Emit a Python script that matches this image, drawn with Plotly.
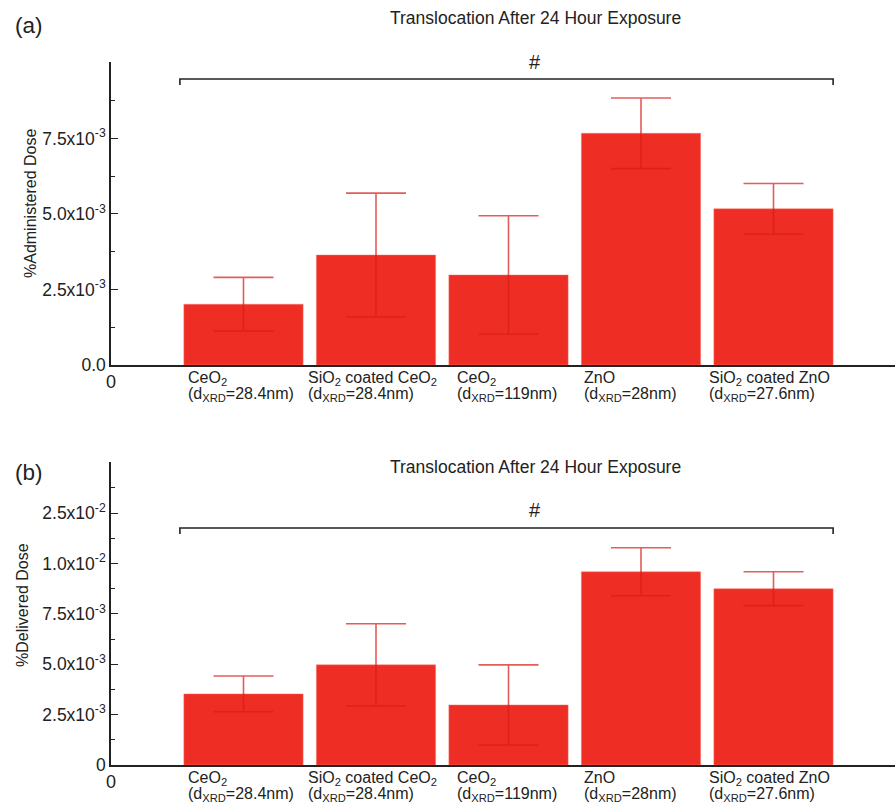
import plotly.graph_objects as go

# ---- data ----
cat_line1 = [
    "CeO<sub>2</sub>",
    "SiO<sub>2</sub> coated CeO<sub>2</sub>",
    "CeO<sub>2</sub>",
    "ZnO",
    "SiO<sub>2</sub> coated ZnO",
]
cat_line2 = [
    "(d<sub>XRD</sub>=28.4nm)",
    "(d<sub>XRD</sub>=28.4nm)",
    "(d<sub>XRD</sub>=119nm)",
    "(d<sub>XRD</sub>=28nm)",
    "(d<sub>XRD</sub>=27.6nm)",
]
positions = [1, 2, 3, 4, 5]

administered = [0.00201, 0.00364, 0.00298, 0.00767, 0.00517]
administered_err = [0.00089, 0.00205, 0.00196, 0.00117, 0.00084]

delivered = [0.00353, 0.00497, 0.00298, 0.00959, 0.00875]
delivered_err = [0.00089, 0.00204, 0.00199, 0.00119, 0.00084]

ticks_a = [0, 0.0025, 0.005, 0.0075, 0.01]
ticktext_a = ["0.0", "2.5x10<sup>-3</sup>", "5.0x10<sup>-3</sup>", "7.5x10<sup>-3</sup>", ""]
minor_a = [0.00125, 0.00375, 0.00625, 0.00875]

ticks_b = [0, 0.0025, 0.005, 0.0075, 0.01, 0.0125, 0.015]
ticktext_b = ["0", "2.5x10<sup>-3</sup>", "5.0x10<sup>-3</sup>", "7.5x10<sup>-3</sup>",
              "1.0x10<sup>-2</sup>", "2.5x10<sup>-2</sup>", ""]
minor_b = [0.00125, 0.00375, 0.00625, 0.00875, 0.01125, 0.01375]

title_text = "Translocation After 24 Hour Exposure"

# ---- style ----
W, H = 895, 803
ML, MR, MT, MB = 111, 0, 62, 38
PW, PH = W - ML - MR, H - MT - MB
FONT = "Liberation Sans, Arial, Helvetica, sans-serif"
BAR = "#EE2D24"
ERR = "rgba(215,30,25,0.72)"
label_xshift = [2, -10, 6, 1, -7]   # pixel nudges of category labels

def px_x(px):
    return (px - ML) / PW

def px_y(py):
    return (H - MB - py) / PH

dom_a = [px_y(365), 1.0]
dom_b = [0.0, px_y(462)]

fig = go.Figure()
for vals, errs, xa, ya in [(administered, administered_err, "x", "y"),
                           (delivered, delivered_err, "x2", "y2")]:
    fig.add_trace(go.Bar(
        x=positions, y=vals, width=0.9, xaxis=xa, yaxis=ya,
        marker=dict(color=BAR, line=dict(color="rgba(245,120,110,0.6)", width=0.8)),
        error_y=dict(type="data", array=errs, visible=True, color=ERR,
                     thickness=1.6, width=30),
        showlegend=False, hoverinfo="y",
    ))

xcommon = dict(range=[0, 5.917], showline=True, linecolor="#222", linewidth=1.5,
               tickvals=[0], ticktext=["0"], ticks="", showgrid=False, zeroline=False,
               tickfont=dict(family=FONT, size=18, color="#222"), fixedrange=True)
ycommon = dict(showline=True, linecolor="#222", linewidth=1.5, ticks="inside",
               ticklen=7, tickwidth=1.3, tickcolor="#222", showgrid=False, zeroline=False,
               tickfont=dict(family=FONT, size=17.5, color="#222"))

fig.update_layout(
    width=W, height=H, margin=dict(l=ML, r=MR, t=MT, b=MB),
    paper_bgcolor="white", plot_bgcolor="white",
    font=dict(family=FONT, color="#222"),
    xaxis=dict(domain=[0, 1], anchor="y", **xcommon),
    xaxis2=dict(domain=[0, 1], anchor="y2", **xcommon),
    yaxis=dict(domain=dom_a, anchor="x", range=[0, 0.01003], tickvals=ticks_a,
               ticktext=ticktext_a,
               minor=dict(tickvals=minor_a, ticks="inside", ticklen=4, tickcolor="#222"),
               **ycommon),
    yaxis2=dict(domain=dom_b, anchor="x2", range=[0, 0.01504], tickvals=ticks_b,
                ticktext=ticktext_b,
                minor=dict(tickvals=minor_b, ticks="inside", ticklen=4, tickcolor="#222"),
                **ycommon),
)

ann = []
# category labels (two separately placed lines for tight line spacing)
for xa, ydom in [("x", dom_a[0]), ("x2", dom_b[0])]:
    for p, l1, l2, dx in zip(positions, cat_line1, cat_line2, label_xshift):
        for txt, dy in [(l1, -2), (l2, -18)]:
            ann.append(dict(x=p - 0.45, y=ydom, xref=xa, yref="paper", text=txt,
                            xanchor="left", yanchor="top", align="left", showarrow=False,
                            xshift=dx, yshift=dy,
                            font=dict(family=FONT, size=16, color="#222")))

# titles, panel letters, axis titles, significance marks
for ttl_y, letter, let_y, hash_y, ytitle, yt_x, yt_y in [
    (18, "(a)", 25, 62, "%Administered Dose", 30, 203),
    (467, "(b)", 472, 510, "%Delivered Dose", 22, 605),
]:
    ann.append(dict(x=px_x(535), y=px_y(ttl_y), xref="paper", yref="paper", text=title_text,
                    showarrow=False, xanchor="center", yanchor="middle",
                    font=dict(family=FONT, size=17.5, color="#222")))
    ann.append(dict(x=px_x(13), y=px_y(let_y), xref="paper", yref="paper", text=letter,
                    showarrow=False, xanchor="left", yanchor="middle",
                    font=dict(family=FONT, size=22.5, color="#222")))
    ann.append(dict(x=px_x(535), y=px_y(hash_y), xref="paper", yref="paper", text="#",
                    showarrow=False, xanchor="center", yanchor="middle",
                    font=dict(family=FONT, size=20, color="#222")))
    ann.append(dict(x=px_x(yt_x), y=px_y(yt_y), xref="paper", yref="paper", text=ytitle,
                    showarrow=False, xanchor="center", yanchor="middle", textangle=-90,
                    font=dict(family=FONT, size=16, color="#222")))
fig.update_layout(annotations=ann)

# significance brackets
x_left = positions[0] - 0.48
x_right = positions[-1] + 0.45
for xa, yd, top, cap in [("x", "y domain", 0.944, 0.924), ("x2", "y2 domain", 0.782, 0.762)]:
    fig.add_shape(type="path", xref=xa, yref=yd,
                  path=f"M {x_left},{cap} L {x_left},{top} L {x_right},{top} L {x_right},{cap}",
                  line=dict(color="#222", width=1.6))

fig.write_html("out.html")
